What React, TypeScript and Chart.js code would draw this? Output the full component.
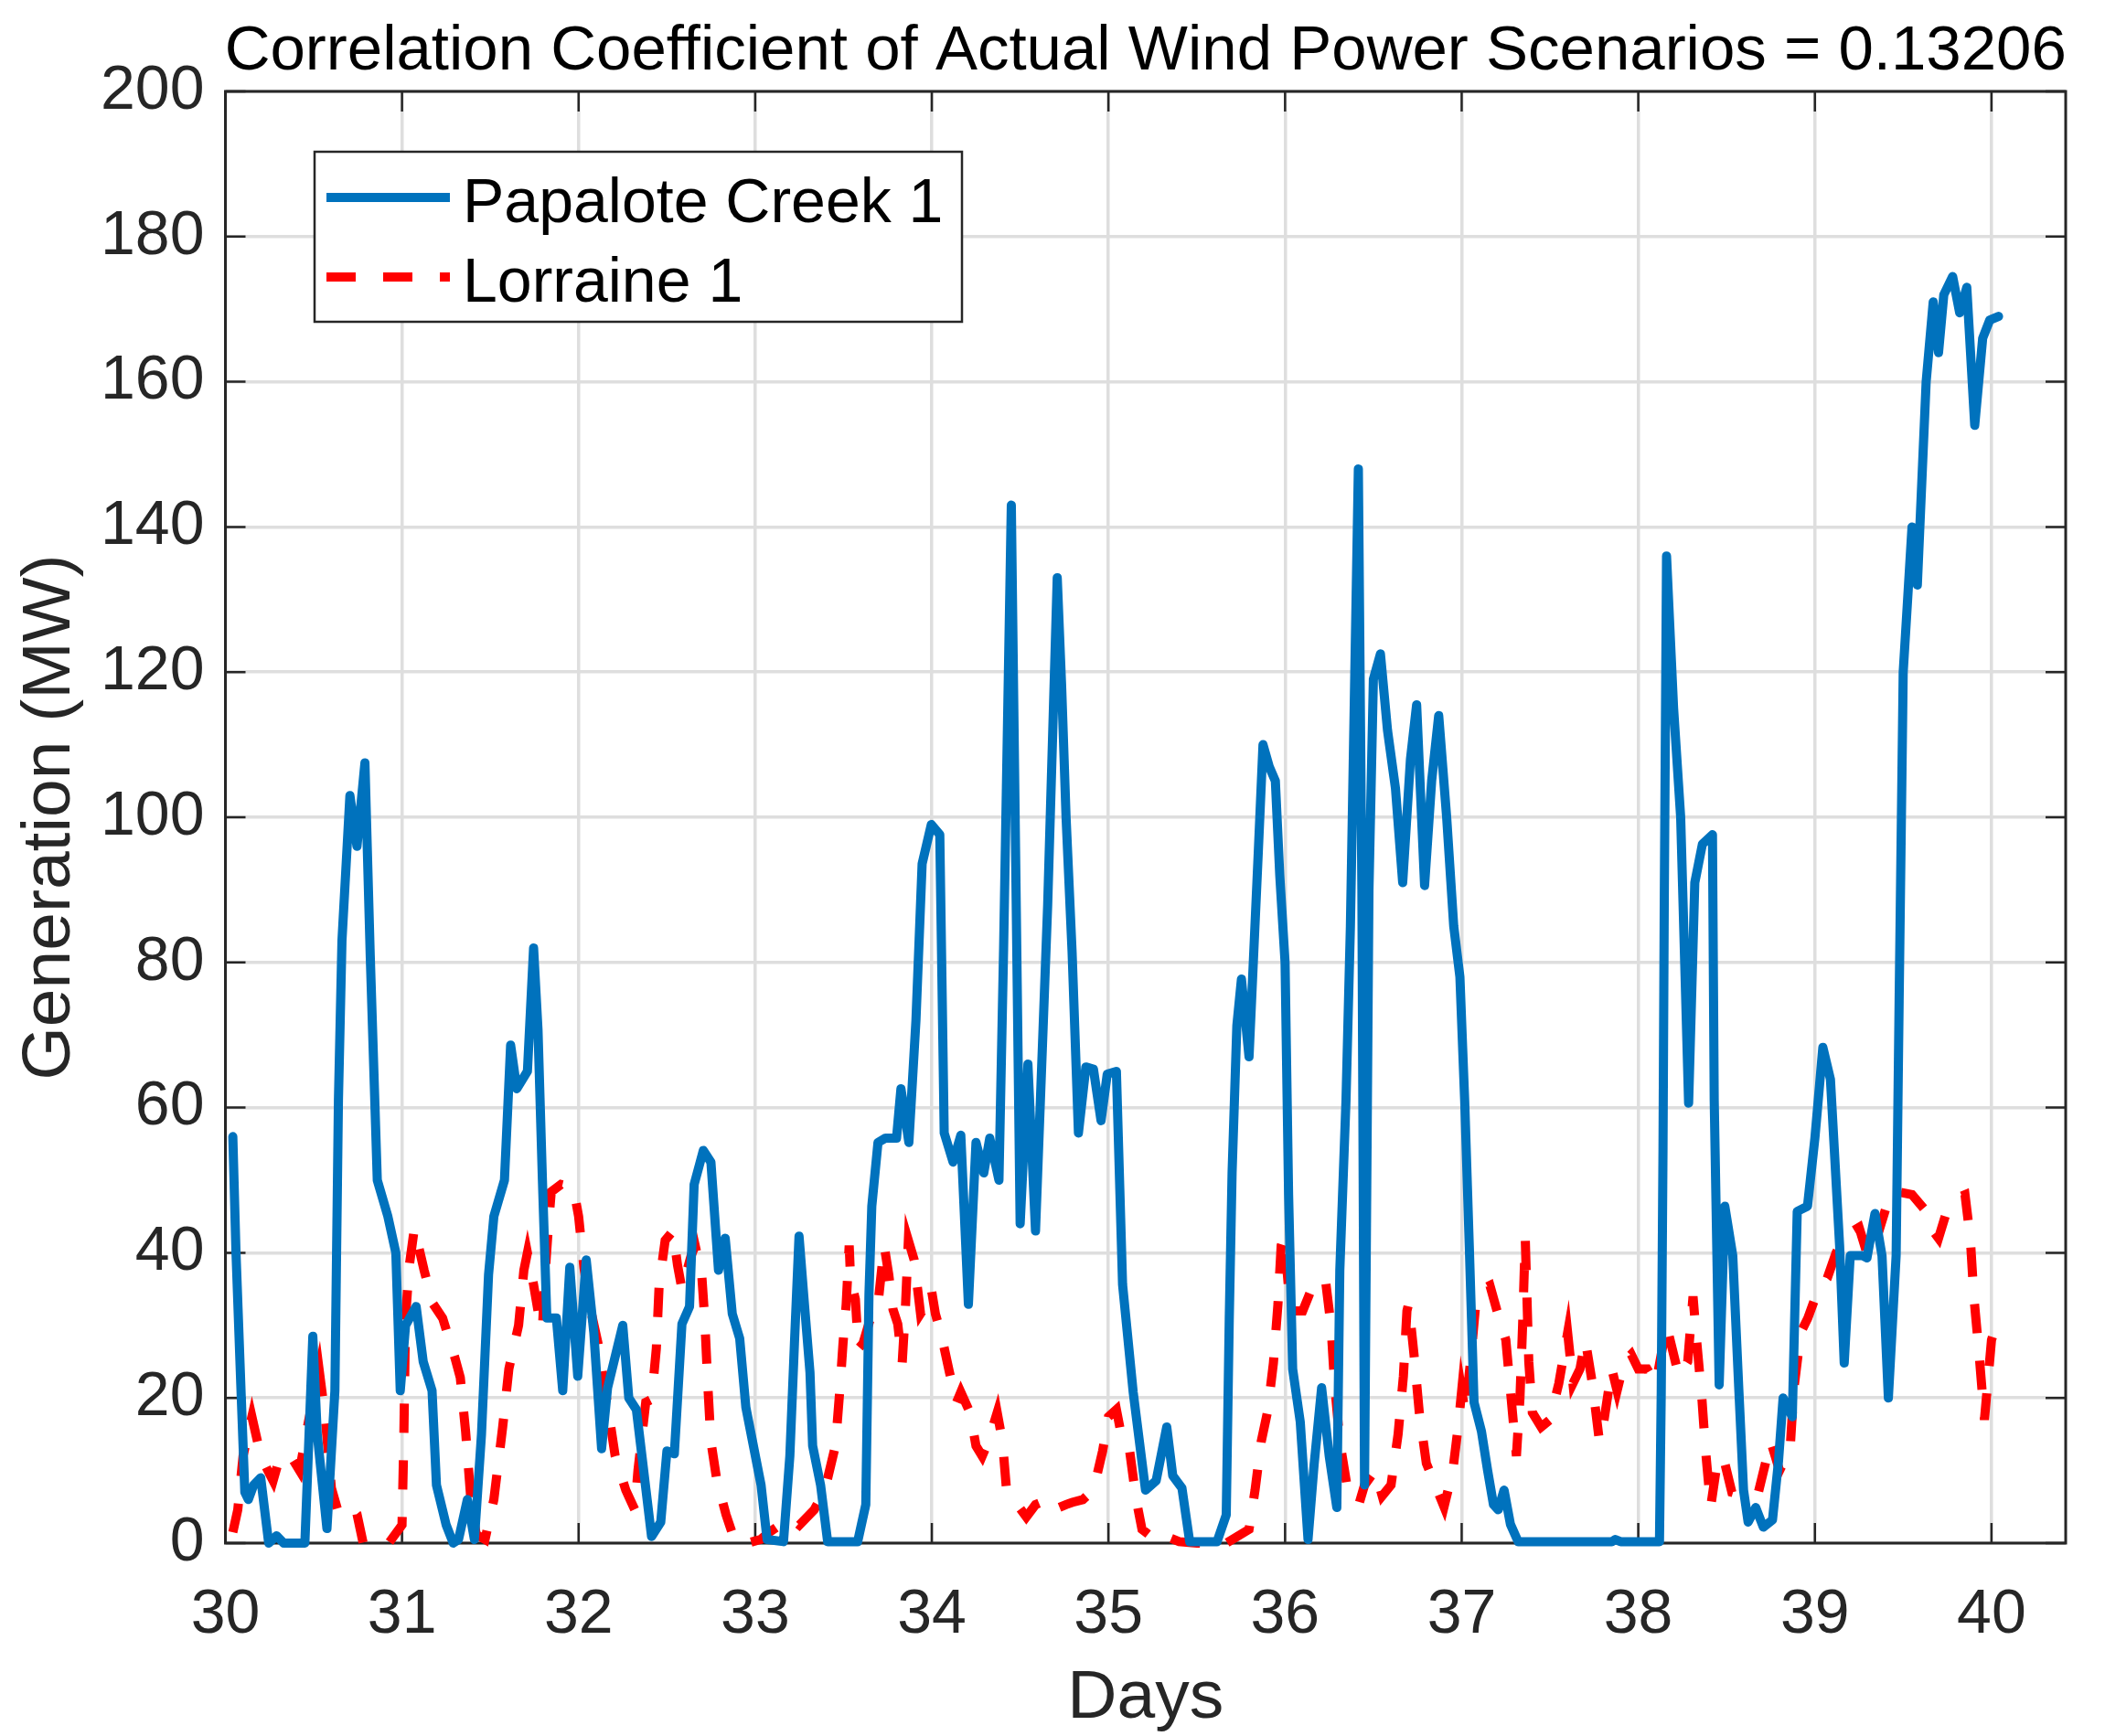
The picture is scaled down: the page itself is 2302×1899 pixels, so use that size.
import React, { useEffect, useRef } from "react";
import { Chart, registerables } from "chart.js";

Chart.register(...registerables);

// ---- Data (days, MW) ----
const papaloteDays = [
  30.042, 30.06, 30.09, 30.11, 30.13, 30.16, 30.2, 30.245, 30.29, 30.33, 30.37, 30.45, 30.495, 30.52, 30.575, 30.62, 30.64, 30.66,
  30.705, 30.745, 30.79, 30.82, 30.86, 30.92, 30.965, 30.99, 31.02, 31.08, 31.12, 31.17, 31.195, 31.25, 31.29, 31.32, 31.37, 31.41,
  31.45, 31.49, 31.52, 31.58, 31.615, 31.65, 31.71, 31.745, 31.77, 31.795, 31.82, 31.874, 31.91, 31.95, 31.995, 32.043, 32.086, 32.13,
  32.164, 32.25, 32.284, 32.327, 32.413, 32.465, 32.5, 32.542, 32.585, 32.628, 32.654, 32.706, 32.749, 32.792, 32.83, 32.87, 32.912,
  32.947, 33.033, 33.067, 33.16, 33.196, 33.222, 33.248, 33.274, 33.31, 33.325, 33.37, 33.41, 33.58, 33.626, 33.644, 33.66, 33.695,
  33.738, 33.8, 33.825, 33.87, 33.91, 33.945, 33.997, 34.045, 34.07, 34.12, 34.164, 34.207, 34.25, 34.294, 34.328, 34.38, 34.406,
  34.45, 34.5, 34.544, 34.587, 34.63, 34.656, 34.71, 34.735, 34.76, 34.794, 34.83, 34.872, 34.915, 34.958, 34.993, 35.045, 35.08,
  35.14, 35.21, 35.27, 35.33, 35.364, 35.416, 35.46, 35.615, 35.667, 35.684, 35.7, 35.727, 35.753, 35.796, 35.848, 35.875, 35.91,
  35.945, 35.97, 36.0, 36.02, 36.043, 36.086, 36.13, 36.164, 36.207, 36.25, 36.293, 36.31, 36.345, 36.37, 36.415, 36.435, 36.45,
  36.475, 36.5, 36.54, 36.58, 36.625, 36.666, 36.71, 36.745, 36.79, 36.83, 36.87, 36.915, 36.955, 36.99, 37.017, 37.043, 37.07,
  37.112, 37.147, 37.18, 37.207, 37.24, 37.276, 37.32, 37.85, 37.87, 37.9, 38.12, 38.13, 38.14, 38.147, 38.16, 38.2, 38.24, 38.285,
  38.32, 38.363, 38.42, 38.43, 38.458, 38.49, 38.535, 38.57, 38.596, 38.622, 38.665, 38.708, 38.76, 38.794, 38.82, 38.872, 38.9,
  38.958, 39.0, 39.045, 39.088, 39.14, 39.166, 39.2, 39.27, 39.295, 39.34, 39.38, 39.416, 39.46, 39.477, 39.5, 39.55, 39.58, 39.63,
  39.67, 39.7, 39.73, 39.78, 39.82, 39.86, 39.905, 39.95, 39.99, 40.04,
];
const papaloteMW = [
  56, 40, 20, 7, 6, 8, 9, 0, 1, 0, 0, 0, 28.5, 15, 2, 21, 61, 83,
  103, 96, 107.5, 81, 50, 45, 40, 21, 30, 32.6, 25, 21, 8, 2.5, 0, 0.5, 6, 0.5,
  15, 37, 45, 50, 68.6, 62.6, 65, 82, 70.7, 50, 31, 31, 21, 38, 23, 39, 29, 13,
  21.4, 30, 20, 18.4, 0.9, 2.9, 12.7, 12.3, 30.2, 32.6, 49.4, 54.1, 52.5, 37.6, 42, 31.6, 28.2,
  18.7, 8, 0.5, 0.2, 12, 27.5, 42.3, 34.3, 23.5, 13.4, 8, 0.2, 0.2, 5.3, 34.3, 46.4, 55.2,
  55.8, 55.8, 62.6, 55.2, 72, 93.6, 99, 97.6, 56.5, 52.5, 56.2, 32.9, 55.2, 51, 55.8, 50, 81.5,
  143, 44, 66, 43, 71, 88, 133, 118, 100, 81.5, 56.5, 65.6, 65.3, 58.2, 64.6, 65, 35.6,
  20.8, 7.3, 8.6, 16, 9.3, 7.6, 0.2, 0.2, 3.9, 30.9, 51, 71.3, 77.7, 67, 95, 110, 107,
  105, 92, 80, 48, 24, 16.7, 0.5, 10.7, 21.4, 12, 4.9, 37.6, 61, 85, 148, 90, 8,
  90, 119, 122.5, 112, 104, 91, 108, 115.5, 90.6, 105, 114, 100, 85, 78, 61, 41, 19.4,
  15.4, 10, 5.3, 4.6, 7.3, 2.6, 0.2, 0.2, 0.5, 0.2, 0.2, 20.8, 54.5, 88, 136, 115, 100, 60.6,
  91, 96.3, 97.6, 61, 21.8, 46.4, 39.6, 20.8, 7.3, 2.9, 4.9, 2.2, 3.2, 11.3, 20, 17.4, 45.7,
  46.4, 55.8, 68.3, 63.9, 41, 24.8, 39.6, 39.6, 39.3, 45.4, 39.6, 20, 39.6, 74.7, 120, 140, 132, 160,
  171, 164, 172, 174.5, 169.5, 173, 154, 166, 168.5, 169,
];

const lorraineDays = [
  30.042, 30.07, 30.1, 30.15, 30.2, 30.24, 30.27, 30.31, 30.37, 30.42, 30.47, 30.53, 30.565, 30.6, 30.64, 30.71, 30.745, 30.78,
  30.925, 31.0, 31.01, 31.02, 31.04, 31.07, 31.125, 31.175, 31.23, 31.3, 31.33, 31.36, 31.39, 31.42, 31.47, 31.52, 31.57, 31.605,
  31.66, 31.69, 31.71, 31.745, 31.77, 31.795, 31.81, 31.83, 31.845, 31.9, 31.97, 32.0, 32.03, 32.06, 32.11, 32.17, 32.207, 32.267,
  32.318, 32.336, 32.38, 32.413, 32.44, 32.456, 32.49, 32.534, 32.56, 32.585, 32.637, 32.66, 32.697, 32.714, 32.731, 32.749, 32.783,
  32.835, 32.886, 32.955, 33.03, 33.08, 33.2, 33.25, 33.334, 33.394, 33.454, 33.48, 33.497, 33.515, 33.532, 33.54, 33.567, 33.584,
  33.61, 33.66, 33.695, 33.73, 33.756, 33.78, 33.807, 33.832, 33.85, 33.867, 33.9, 33.936, 33.97, 33.997, 34.02, 34.052, 34.1,
  34.14, 34.164, 34.216, 34.25, 34.285, 34.32, 34.37, 34.4, 34.423, 34.484, 34.535, 34.587, 34.656, 34.69, 34.76, 34.794, 34.855,
  34.915, 34.967, 35.0, 35.045, 35.08, 35.12, 35.157, 35.19, 35.28, 35.33, 35.4, 35.5, 35.667, 35.796, 35.83, 35.865, 35.9, 35.934,
  35.96, 35.978, 35.995, 36.02, 36.04, 36.1, 36.15, 36.2, 36.23, 36.26, 36.28, 36.31, 36.35, 36.38, 36.42, 36.45, 36.48, 36.51,
  36.55, 36.6, 36.64, 36.67, 36.69, 36.7, 36.73, 36.76, 36.8, 36.85, 36.9, 36.95, 36.98, 37.0, 37.02, 37.05, 37.08, 37.12, 37.16,
  37.2, 37.25, 37.28, 37.31, 37.33, 37.345, 37.36, 37.38, 37.4, 37.45, 37.5, 37.55, 37.6, 37.63, 37.67, 37.7, 37.74, 37.78, 37.8,
  37.85, 37.88, 37.92, 37.96, 38.0, 38.05, 38.1, 38.16, 38.23, 38.28, 38.31, 38.33, 38.36, 38.38, 38.41, 38.44, 38.48, 38.53, 38.6,
  38.68, 38.75, 38.8, 38.86, 38.88, 38.92, 38.96, 39.02, 39.07, 39.12, 39.18, 39.25, 39.3, 39.35, 39.4, 39.45, 39.55, 39.62, 39.67,
  39.7, 39.75, 39.8, 39.85, 39.88, 39.9, 39.93, 39.96, 40.0, 40.04,
];
const lorraineMW = [
  1.5, 4.6, 12, 17.4, 12, 10, 8.6, 12, 12, 10, 16.7, 24, 17.4, 7.6, 4.2, 5, 4, 0,
  0, 2.5, 14, 31, 38, 43.4, 37.6, 33, 31, 25.5, 22.8, 15.4, 6, 1.2, 0.5, 6, 16, 24,
  30, 37.6, 40, 35.6, 32, 29.5, 37, 44, 48.4, 49.4, 49, 45, 38, 33, 27.5, 18, 12, 7.3,
  4.6, 10, 19.4, 19.8, 26.8, 35.6, 41.7, 43, 38.3, 35, 39.6, 41, 37, 30.9, 22, 14, 8.6,
  3.9, 0.2, 0, 0.5, 1.5, 3.5, 2.5, 4.6, 7.3, 13.4, 21.4, 27.5, 32.9, 41, 36.3, 33.6, 26.8,
  27.5, 31.6, 32.9, 41, 37, 32.2, 30.2, 24.8, 32.2, 41.7, 39, 31.6, 32.9, 35, 31.6, 28.9, 23.5,
  19.4, 20.8, 18, 13.4, 12, 14, 18, 14, 7.3, 5.3, 3.6, 5.3, 6, 4.6, 5.3, 5.6, 6,
  7.3, 12.7, 17.4, 18.4, 14, 12.7, 6, 1.9, 0.2, 0.9, 0.2, 0, 0, 1.9, 7.3, 14, 18, 24.8,
  33, 41, 42.3, 35, 32, 32, 35, 36.5, 36, 30, 22, 14, 8, 6, 5.5, 8, 9, 10,
  6.5, 8, 15, 23, 32, 33, 26, 18, 11, 8, 5, 10, 16, 21, 18, 25, 33, 35, 35.5,
  32, 28, 20, 12, 20, 30, 42, 25, 18, 16, 17, 22, 29, 22, 24, 28, 22, 14, 16,
  24, 21, 25, 26, 24, 24, 22, 30, 23, 25, 34, 28, 20, 13, 5, 10, 12, 7, 6.5,
  7, 14, 10, 13, 21, 29, 31, 35, 36.5, 40, 42.5, 43.5, 39.5, 42, 46, 48.5, 48, 46, 43,
  42, 46, 47.5, 48, 42, 34, 26, 17, 28, 31,
];

const xTicks = [30, 31, 32, 33, 34, 35, 36, 37, 38, 39, 40];
const yTicks = [0, 20, 40, 60, 80, 100, 120, 140, 160, 180, 200];

const titleText = "Correlation Coefficient of Actual Wind Power Scenarios = 0.13206";
const xLabel = "Days";
const yLabel = "Generation (MW)";
const seriesNames = ["Papalote Creek 1", "Lorraine 1"];

const FONT = '"Liberation Sans", Arial, Helvetica, sans-serif';
const AXIS_COLOR = "#262626";
const BLUE = "#0072BD";
const RED = "#FF0000";
const LINE_W = 10;
const DASH = [32, 30];

const W = 2302;
const H = 1899;

const decorPlugin = {
  id: "decor",
  beforeDatasetsDraw(chart: any) {
    const { ctx, chartArea, scales } = chart;
    const { left, right, top, bottom } = chartArea;
    ctx.save();
    ctx.strokeStyle = AXIS_COLOR;
    ctx.lineWidth = 3;
    ctx.strokeRect(left, top, right - left, bottom - top);
    ctx.lineWidth = 2.5;
    const tl = 22;
    ctx.beginPath();
    xTicks.forEach((v) => {
      const x = scales.x.getPixelForValue(v);
      ctx.moveTo(x, bottom);
      ctx.lineTo(x, bottom - tl);
      ctx.moveTo(x, top);
      ctx.lineTo(x, top + tl);
    });
    yTicks.forEach((v) => {
      const y = scales.y.getPixelForValue(v);
      ctx.moveTo(left, y);
      ctx.lineTo(left + tl, y);
      ctx.moveTo(right, y);
      ctx.lineTo(right - tl, y);
    });
    ctx.stroke();
    ctx.restore();
  },
  afterDraw(chart: any) {
    const { ctx, chartArea } = chart;
    const { left, right, top, bottom } = chartArea;
    const cx = (left + right) / 2;
    ctx.save();
    // title
    ctx.fillStyle = "#000000";
    ctx.font = `69px ${FONT}`;
    ctx.textAlign = "center";
    ctx.textBaseline = "alphabetic";
    ctx.fillText(titleText, cx, 76);
    // x label
    ctx.fillStyle = AXIS_COLOR;
    ctx.font = `75px ${FONT}`;
    ctx.fillText(xLabel, cx, 1879);
    // y label
    ctx.save();
    ctx.translate(76, (top + bottom) / 2);
    ctx.rotate(-Math.PI / 2);
    ctx.fillText(yLabel, 0, 0);
    ctx.restore();

    // legend
    const bx = 344, by = 166, bw = 708, bh = 186;
    ctx.fillStyle = "#ffffff";
    ctx.fillRect(bx, by, bw, bh);
    ctx.strokeStyle = AXIS_COLOR;
    ctx.lineWidth = 2.5;
    ctx.strokeRect(bx, by, bw, bh);
    const ds = chart.data.datasets;
    const rows = [216, 303];
    ds.forEach((d: any, i: number) => {
      ctx.save();
      ctx.strokeStyle = d.borderColor;
      ctx.lineWidth = 10;
      ctx.lineCap = "butt";
      ctx.setLineDash(d.borderDash || []);
      ctx.beginPath();
      ctx.moveTo(357, rows[i]);
      ctx.lineTo(492, rows[i]);
      ctx.stroke();
      ctx.restore();
      ctx.fillStyle = "#000000";
      ctx.font = `68px ${FONT}`;
      ctx.textAlign = "left";
      ctx.textBaseline = "alphabetic";
      ctx.fillText(d.label, 506, rows[i] + 27);
    });
    ctx.restore();
  },
};

export default function App() {
  const ref = useRef<HTMLCanvasElement | null>(null);
  useEffect(() => {
    document.body.style.margin = "0";
    const canvas = ref.current;
    if (!canvas) return;
    const chart = new Chart(canvas, {
      type: "line",
      data: {
        datasets: [
          {
            label: seriesNames[0],
            data: papaloteDays.map((d, i) => ({ x: d, y: papaloteMW[i] })),
            borderColor: BLUE,
            backgroundColor: BLUE,
            borderWidth: LINE_W,
            pointRadius: 0,
            tension: 0,
            borderJoinStyle: "round",
            borderCapStyle: "round",
            clip: false,
          },
          {
            label: seriesNames[1],
            data: lorraineDays.map((d, i) => ({ x: d, y: lorraineMW[i] })),
            borderColor: RED,
            backgroundColor: RED,
            borderWidth: LINE_W,
            borderDash: DASH,
            pointRadius: 0,
            tension: 0,
            borderJoinStyle: "miter",
            borderCapStyle: "butt",
            clip: false,
          },
        ],
      },
      options: {
        animation: false,
        responsive: false,
        devicePixelRatio: 1,
        layout: { padding: { top: 100, right: 43, left: 0, bottom: 0 } },
        plugins: {
          legend: { display: false },
          title: { display: false },
          tooltip: { enabled: false },
        },
        scales: {
          x: {
            type: "linear",
            min: 30,
            max: 40.42,
            afterFit: (s: any) => {
              s.height = H - 1688;
            },
            afterBuildTicks: (s: any) => {
              s.ticks = xTicks.map((v) => ({ value: v }));
            },
            border: { display: false },
            grid: { color: "#dedede", lineWidth: 3.5, drawTicks: false },
            ticks: {
              padding: 38,
              color: AXIS_COLOR,
              font: { family: FONT, size: 68 },
              maxRotation: 0,
              autoSkip: false,
              includeBounds: false,
            },
          },
          y: {
            type: "linear",
            min: 0,
            max: 200,
            afterFit: (s: any) => {
              s.width = 246.5;
            },
            afterBuildTicks: (s: any) => {
              s.ticks = yTicks.map((v) => ({ value: v }));
            },
            border: { display: false },
            grid: { color: "#dedede", lineWidth: 3.5, drawTicks: false },
            ticks: {
              padding: 23,
              color: AXIS_COLOR,
              font: { family: FONT, size: 68 },
              autoSkip: false,
            },
          },
        },
      },
      plugins: [decorPlugin],
    } as any);
    return () => chart.destroy();
  }, []);
  return (
    <div style={{ width: W, height: H, background: "#ffffff" }}>
      <canvas ref={ref} width={W} height={H} style={{ width: W, height: H, display: "block" }} />
    </div>
  );
}
